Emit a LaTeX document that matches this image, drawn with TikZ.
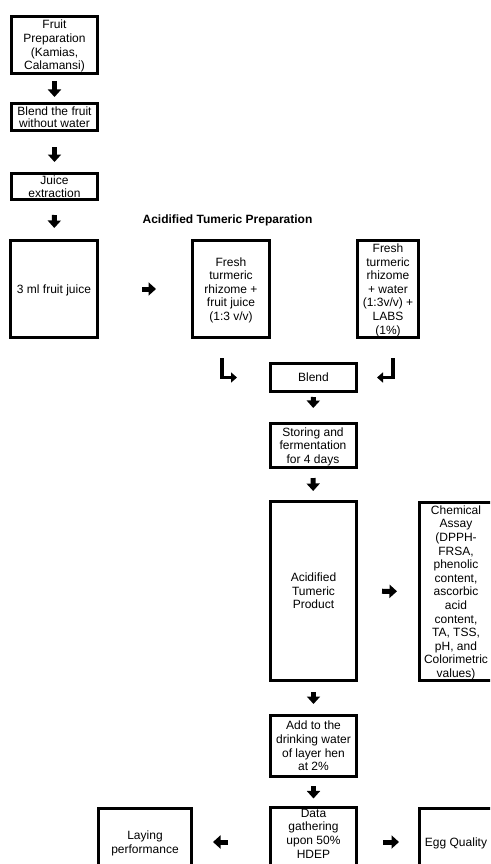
\documentclass[tikz,border=0pt]{standalone}
\usepackage{fontspec}
\setmainfont{Liberation Sans}
\usetikzlibrary{arrows.meta}

\begin{document}
\begin{tikzpicture}[x=1pt, y=-1pt,
        box/.style={draw=black, line width=3pt, align=center, inner sep=1pt,
            text depth=0pt, font=\fontsize{12}{13.6}\selectfont},
        tight/.style={font=\fontsize{12}{12.6}\selectfont, inner ysep=2pt},
        blk/.style={line width=5pt, -{Triangle[width=13pt,length=7.5pt]}},
        bent/.style={line width=3.5pt, -{Triangle[width=10pt,length=6pt]}}]

            \useasboundingbox (0,0) rectangle (490,864);
            \clip (0,0) rectangle (490,864);

            % fruit juice column
            \node[box, minimum width=86pt, minimum height=57pt] (prep) at (54.5,45) {Fruit\\Preparation\\(Kamias,\\Calamansi)};
            \node[box, tight, minimum width=86pt, minimum height=27pt] (blendfruit) at (54.5,117) {Blend the fruit\\without water};
            \node[box, tight, minimum width=86pt, minimum height=26pt] (juice) at (54.5,186.5) {Juice\\extraction};
            \node[box, minimum width=87pt, minimum height=97pt] (juice3ml) at (54,289) {3 ml fruit juice};

            \node[font=\fontsize{12}{13.6}\selectfont\bfseries] (title) at (227.5,220) {Acidified Tumeric Preparation};

            % turmeric preparation
            \node[box, minimum width=77pt, minimum height=97pt] (freshjuice) at (231,289) {Fresh\\turmeric\\rhizome +\\fruit juice\\(1:3 v/v)};
            \node[box, minimum width=61pt, minimum height=97pt] (freshlabs) at (388,289) {Fresh\\turmeric\\rhizome\\+ water\\(1:3v/v) +\\LABS\\(1\%)};
            \node[box, minimum width=86pt, minimum height=28pt] (blend) at (313.5,377.5) {Blend};
            \node[box, minimum width=86pt, minimum height=44pt] (storing) at (313,445.5) {Storing and\\fermentation\\for 4 days};
            \node[box, minimum width=86pt, minimum height=179pt] (product) at (313.5,591) {Acidified\\Tumeric\\Product};
            \node[box, minimum width=73pt, minimum height=178pt] (chemical) at (456,591.5) {Chemical\\Assay\\(DPPH-\\FRSA,\\phenolic\\content,\\ascorbic\\acid\\content,\\TA, TSS,\\pH, and\\Colorimetric\\values)};
            \node[box, minimum width=86pt, minimum height=61pt] (addwater) at (313.5,746) {Add to the\\drinking water\\of layer hen\\at 2\%};

            % data gathering
            \node[box, minimum width=86pt, minimum height=67pt, text depth=17pt] (data) at (313.5,842) {Data\\gathering\\upon 50\%\\HDEP};
            \node[box, minimum width=93pt, minimum height=67pt] (laying) at (145,842) {Laying\\performance};
            \node[box, minimum width=73pt, minimum height=67pt] (egg) at (456,842) {Egg Quality};

            % arrows
            \draw[blk, shorten <=6pt, shorten >=5pt] (prep) -- (blendfruit);
            \draw[blk, shorten <=15pt, shorten >=10pt] (blendfruit) -- (juice);
            \draw[blk, shorten <=14pt, shorten >=11pt] (juice) -- (juice3ml);
            \draw[blk, shorten <=43pt, shorten >=35pt] (juice3ml) -- (freshjuice);

            \draw[bent] ([xshift=-9pt,yshift=-19pt]freshjuice.south) |- ([xshift=-32pt]blend.west);
            \draw[bent] ([xshift=5pt,yshift=-19pt]freshlabs.south) |- ([xshift=19pt]blend.east);

            \draw[blk, shorten <=4pt, shorten >=14pt] (blend) -- (storing);
            \draw[blk, shorten <=9pt, shorten >=9pt] (storing) -- (product);
            \draw[blk, shorten <=24pt, shorten >=21pt] (product) -- (chemical);
            \draw[blk, shorten <=10pt, shorten >=10pt] (product) -- (addwater);
            \draw[blk, shorten <=8pt, shorten >=8pt] (addwater) -- (data);
            \draw[blk, shorten <=41pt, shorten >=20pt] (data) -- (laying);
            \draw[blk, shorten <=25pt, shorten >=19pt] (data) -- (egg);
        \end{tikzpicture}
\end{document}
